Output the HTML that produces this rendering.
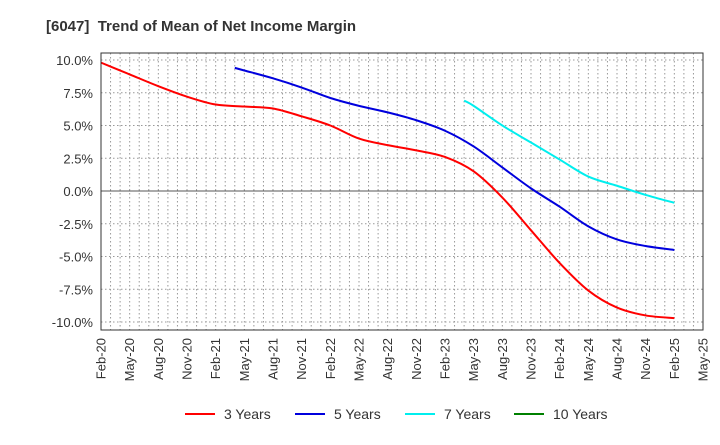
<!DOCTYPE html>
<html><head><meta charset="utf-8"><style>
body{margin:0;background:#fff;font-family:"Liberation Sans",sans-serif}
svg text{font-family:"Liberation Sans",sans-serif}
</style></head><body>
<svg id="c" width="720" height="440" xmlns="http://www.w3.org/2000/svg">
<text x="46" y="31" font-size="15" font-weight="bold" fill="#333" xml:space="preserve">[6047]  Trend of Mean of Net Income Margin</text>
<g id="grid"></g><g id="series"></g><g id="axes"></g>
<g font-size="14" fill="#333">
<g><line x1="185" y1="414" x2="215" y2="414" stroke="#ff0000" stroke-width="2"/><text x="224" y="419">3 Years</text></g>
<g><line x1="295" y1="414" x2="325" y2="414" stroke="#0000dd" stroke-width="2"/><text x="334" y="419">5 Years</text></g>
<g><line x1="405" y1="414" x2="435" y2="414" stroke="#00eeee" stroke-width="2"/><text x="444" y="419">7 Years</text></g>
<g><line x1="514" y1="414" x2="544" y2="414" stroke="#008000" stroke-width="2"/><text x="553" y="419">10 Years</text></g>
</g>
</svg>
<script>
const xLabels=["Feb-20","May-20","Aug-20","Nov-20","Feb-21","May-21","Aug-21","Nov-21","Feb-22","May-22","Aug-22","Nov-22","Feb-23","May-23","Aug-23","Nov-23","Feb-24","May-24","Aug-24","Nov-24","Feb-25","May-25"];
const yTicks=[10,7.5,5,2.5,0,-2.5,-5,-7.5,-10];
const months3=[0,3,6,9,12,15,18,21,24,27,30,33,36,39,42,45,48,51,54,57,60];
const vals3=[9.8,8.9,8.0,7.2,6.6,6.45,6.3,5.7,5.0,4.0,3.5,3.1,2.6,1.5,-0.5,-3.0,-5.5,-7.6,-8.9,-9.5,-9.7];
const months5=[14,15,18,21,24,27,30,33,36,39,42,45,48,51,54,57,60];
const vals5=[9.4,9.2,8.6,7.9,7.1,6.5,6.0,5.4,4.6,3.4,1.8,0.2,-1.2,-2.7,-3.7,-4.2,-4.5];
const months7=[38,39,42,45,48,51,54,57,60];
const vals7=[6.9,6.5,5.0,3.7,2.4,1.1,0.4,-0.3,-0.9];
const L=101,R=703,T=53,B=330;
const xs=m=>L+m*(R-L)/63;
const ys=v=>191-v*13.1;
const NS="http://www.w3.org/2000/svg";
function mk(t,a,p){const e=document.createElementNS(NS,t);for(const k in a)e.setAttribute(k,a[k]);p.appendChild(e);return e;}
const grid=document.getElementById('grid'),axes=document.getElementById('axes'),ser=document.getElementById('series');
for(let m=1;m<63;m++){const l=mk('line',{x1:xs(m),x2:xs(m),y1:T,y2:B,stroke:'#999','stroke-dasharray':'1.5,2.5','stroke-width':1},grid);

}
yTicks.forEach(v=>{const l=mk('line',{x1:L,x2:R,y1:ys(v),y2:ys(v),stroke:v===0?'#555':'#999','stroke-dasharray':v===0?'none':'1.5,2.5','stroke-width':1},grid);


const t=mk('text',{x:L-8,y:ys(v)+5,'text-anchor':'end','font-size':13,fill:'#333'},axes);t.textContent=v.toFixed(1)+'%';

});
xLabels.forEach((s,i)=>{const x=xs(i*3);const t=mk('text',{transform:`translate(${x+4.5},338) rotate(-90)`,'text-anchor':'end','font-size':13,fill:'#333'},axes);t.textContent=s;

});
const fr=mk('rect',{x:L,y:T,width:R-L,height:B-T,fill:'none',stroke:'#333','stroke-width':1},axes);


function path(ms,vs){const p=ms.map((m,i)=>[xs(m),ys(vs[i])]);let d=`M${p[0][0]},${p[0][1]}`;
for(let i=0;i<p.length-1;i++){const p0=p[i-1]||p[i],p1=p[i],p2=p[i+1],p3=p[i+2]||p2;
d+=` C${p1[0]+(p2[0]-p0[0])/6},${p1[1]+(p2[1]-p0[1])/6} ${p2[0]-(p3[0]-p1[0])/6},${p2[1]-(p3[1]-p1[1])/6} ${p2[0]},${p2[1]}`;}return d;}
[[months3,vals3,'#ff0000','line-3-years'],[months5,vals5,'#0000dd','line-5-years'],[months7,vals7,'#00eeee','line-7-years']].forEach(s=>{
const e=mk('path',{d:path(s[0],s[1]),fill:'none',stroke:s[2],'stroke-width':2},ser);

});
</script>
</body></html>
